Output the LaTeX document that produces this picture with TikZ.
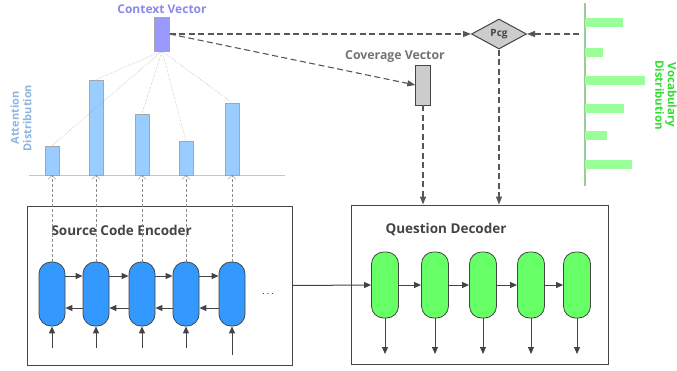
\documentclass[tikz,border=0pt]{standalone}
\usepackage{fontspec}
\setmainfont{Open Sans}
\usetikzlibrary{arrows.meta,shapes.geometric}

\definecolor{encblue}{HTML}{3399FF}
\definecolor{decgreen}{HTML}{66FF66}
\definecolor{attbar}{HTML}{99CCFF}
\definecolor{ctxfill}{HTML}{9999FF}
\definecolor{ctxtext}{HTML}{8888EE}
\definecolor{atttext}{HTML}{8FB4DE}
\definecolor{vocbar}{HTML}{99FF99}
\definecolor{vocline}{HTML}{99CC99}
\definecolor{voctext}{HTML}{33DD33}
\definecolor{edge}{HTML}{444444}

\tikzset{
  enc/.style={draw=edge, line width=0.8pt, fill=encblue, rounded corners=12pt, minimum width=26pt, minimum height=64pt, inner sep=0pt},
  dec/.style={draw=edge, line width=0.8pt, fill=decgreen, rounded corners=12pt, minimum width=27pt, minimum height=66pt, inner sep=0pt},
  abar/.style={draw=black!35, fill=attbar, anchor=south, minimum width=14pt, inner sep=0pt},
  vbar/.style={fill=vocbar, anchor=west, minimum height=9pt, inner sep=0pt},
  bigbox/.style={draw=edge, line width=0.9pt, inner sep=0pt},
  arr/.style={edge, line width=1pt, -{Triangle[length=7pt,width=6pt]}},
  dasharr/.style={edge!90, line width=1.1pt, dash pattern=on 6pt off 3.5pt, -{Triangle[length=8pt,width=6pt]}},
  uparr/.style={black!45, dash pattern=on 3pt off 2pt, -{Straight Barb[length=4pt,width=8pt]}},
  attline/.style={black!40, densely dotted},
  title/.style={font=\bfseries\fontsize{13.5}{16}\selectfont, text=edge}
}

\begin{document}
\begin{tikzpicture}[x=1pt,y=-1pt]
  \useasboundingbox (0,0) rectangle (677,370);

  % big boxes
  \node[bigbox, minimum width=265pt, minimum height=159pt] (encbox) at (159.5,285.5) {};
  \node[bigbox, minimum width=257pt, minimum height=159pt] (decbox) at (479.5,284.5) {};
  \node[title, anchor=west] at (48,230) {Source Code Encoder};
  \node[title, anchor=west] at (382,230) {Question Decoder};

  % encoder cells
  \node[enc] (e1) at (52,294) {};
  \node[enc] (e2) at (96,294) {};
  \node[enc] (e3) at (142,294) {};
  \node[enc] (e4) at (186,294) {};
  \node[enc] (e5) at (232,294) {};
  \node at (268,294) {$\cdots$};
  \draw[arr] ([yshift=18pt]e1.east) -- ([yshift=18pt]e2.west);
  \draw[arr] ([yshift=18pt]e2.east) -- ([yshift=18pt]e3.west);
  \draw[arr] ([yshift=18pt]e3.east) -- ([yshift=18pt]e4.west);
  \draw[arr] ([yshift=18pt]e4.east) -- ([yshift=18pt]e5.west);
  \draw[arr] ([yshift=-14pt]e2.west) -- ([yshift=-14pt]e1.east);
  \draw[arr] ([yshift=-14pt]e3.west) -- ([yshift=-14pt]e2.east);
  \draw[arr] ([yshift=-14pt]e4.west) -- ([yshift=-14pt]e3.east);
  \draw[arr] ([yshift=-14pt]e5.west) -- ([yshift=-14pt]e4.east);
  \coordinate (i1) at (52,348);
  \coordinate (i2) at (96,348);
  \coordinate (i3) at (142,348);
  \coordinate (i4) at (186,348);
  \coordinate (i5) at (232,355);
  \draw[arr] (i1) -- (e1.south);
  \draw[arr] (i2) -- (e2.south);
  \draw[arr] (i3) -- (e3.south);
  \draw[arr] (i4) -- (e4.south);
  \draw[arr] (i5) -- (e5.south);

  % decoder cells
  \node[dec] (d1) at (385,285) {};
  \node[dec] (d2) at (435,285) {};
  \node[dec] (d3) at (483,285) {};
  \node[dec] (d4) at (531,285) {};
  \node[dec] (d5) at (577,285) {};
  \draw[arr] (encbox.east) -- (d1.west);
  \draw[arr] (d1) -- (d2);
  \draw[arr] (d2) -- (d3);
  \draw[arr] (d3) -- (d4);
  \draw[arr] (d4) -- (d5);
  \coordinate (o1) at (385,354);
  \coordinate (o2) at (435,354);
  \coordinate (o3) at (483,354);
  \coordinate (o4) at (531,354);
  \coordinate (o5) at (577,354);
  \draw[arr] (d1.south) -- (o1);
  \draw[arr] (d2.south) -- (o2);
  \draw[arr] (d3.south) -- (o3);
  \draw[arr] (d4.south) -- (o4);
  \draw[arr] (d5.south) -- (o5);

  % attention distribution
  \draw[atttext!70, thick] (29,175) -- (285,175);
  \node[abar, minimum height=29pt] (a1) at (52,175) {};
  \node[abar, minimum height=95pt] (a2) at (96,175) {};
  \node[abar, minimum height=61pt] (a3) at (142,175) {};
  \node[abar, minimum height=34pt] (a4) at (186,175) {};
  \node[abar, minimum height=72pt] (a5) at (232,175) {};
  \node[rotate=90, align=center, text=atttext, font=\bfseries\fontsize{11}{12.5}\selectfont] at (21,118) {Attention\\Distribution};
  \draw[uparr] (e1.north) -- (a1.south);
  \draw[uparr] (e2.north) -- (a2.south);
  \draw[uparr] (e3.north) -- (a3.south);
  \draw[uparr] (e4.north) -- (a4.south);
  \draw[uparr] (e5.north) -- (a5.south);

  % context vector
  \node[draw=black!35, fill=ctxfill, minimum width=15pt, minimum height=34pt, inner sep=0pt] (ctx) at (162,34) {};
  \node[text=ctxtext, font=\bfseries\fontsize{12}{14}\selectfont] at (162,9) {Context Vector};
  \draw[attline] (ctx.south) -- (a1.north);
  \draw[attline] (ctx.south) -- (a2.north);
  \draw[attline] (ctx.south) -- (a3.north);
  \draw[attline] (ctx.south) -- (a4.north);
  \draw[attline] (ctx.south) -- (a5.north);

  % coverage vector and pcg
  \node[draw=edge, fill=black!20, minimum width=15pt, minimum height=40pt, inner sep=0pt] (cov) at (423,85) {};
  \node[text=black!55, font=\bfseries\fontsize{12.3}{14}\selectfont] at (395,57) {Coverage Vector};
  \node[diamond, draw=edge, line width=1pt, fill=black!20, minimum width=55pt, minimum height=30pt, inner sep=0pt,
        font=\bfseries\fontsize{10}{11}\selectfont, text=edge] (pcg) at (499,34) {Pcg};
  \draw[dasharr] (ctx.east) -- (pcg.west);
  \draw[dasharr] (ctx.east) -- (cov.west);
  \draw[dasharr] (cov.south) -- (cov.south |- decbox.north);
  \draw[dasharr] (pcg.south) -- (pcg.south |- decbox.north);

  % vocabulary distribution
  \draw[vocline, line width=1.2pt] (585,3) -- (585,186);
  \node[vbar, minimum width=38pt] (v1) at (585,22.5) {};
  \node[vbar, minimum width=18pt] (v2) at (585,52.5) {};
  \node[vbar, minimum width=60pt] (v3) at (585,80) {};
  \node[vbar, minimum width=39pt] (v4) at (585,108.5) {};
  \node[vbar, minimum width=22pt] (v5) at (585,135.5) {};
  \node[vbar, minimum width=47pt] (v6) at (585,164.5) {};
  \coordinate (vx) at (579,34);
  \draw[dasharr] (vx) -- (pcg.east);
  \node[rotate=-90, align=center, text=voctext, font=\bfseries\fontsize{11.5}{12.5}\selectfont] at (666,95) {Vocabulary\\Distribution};
\end{tikzpicture}
\end{document}
